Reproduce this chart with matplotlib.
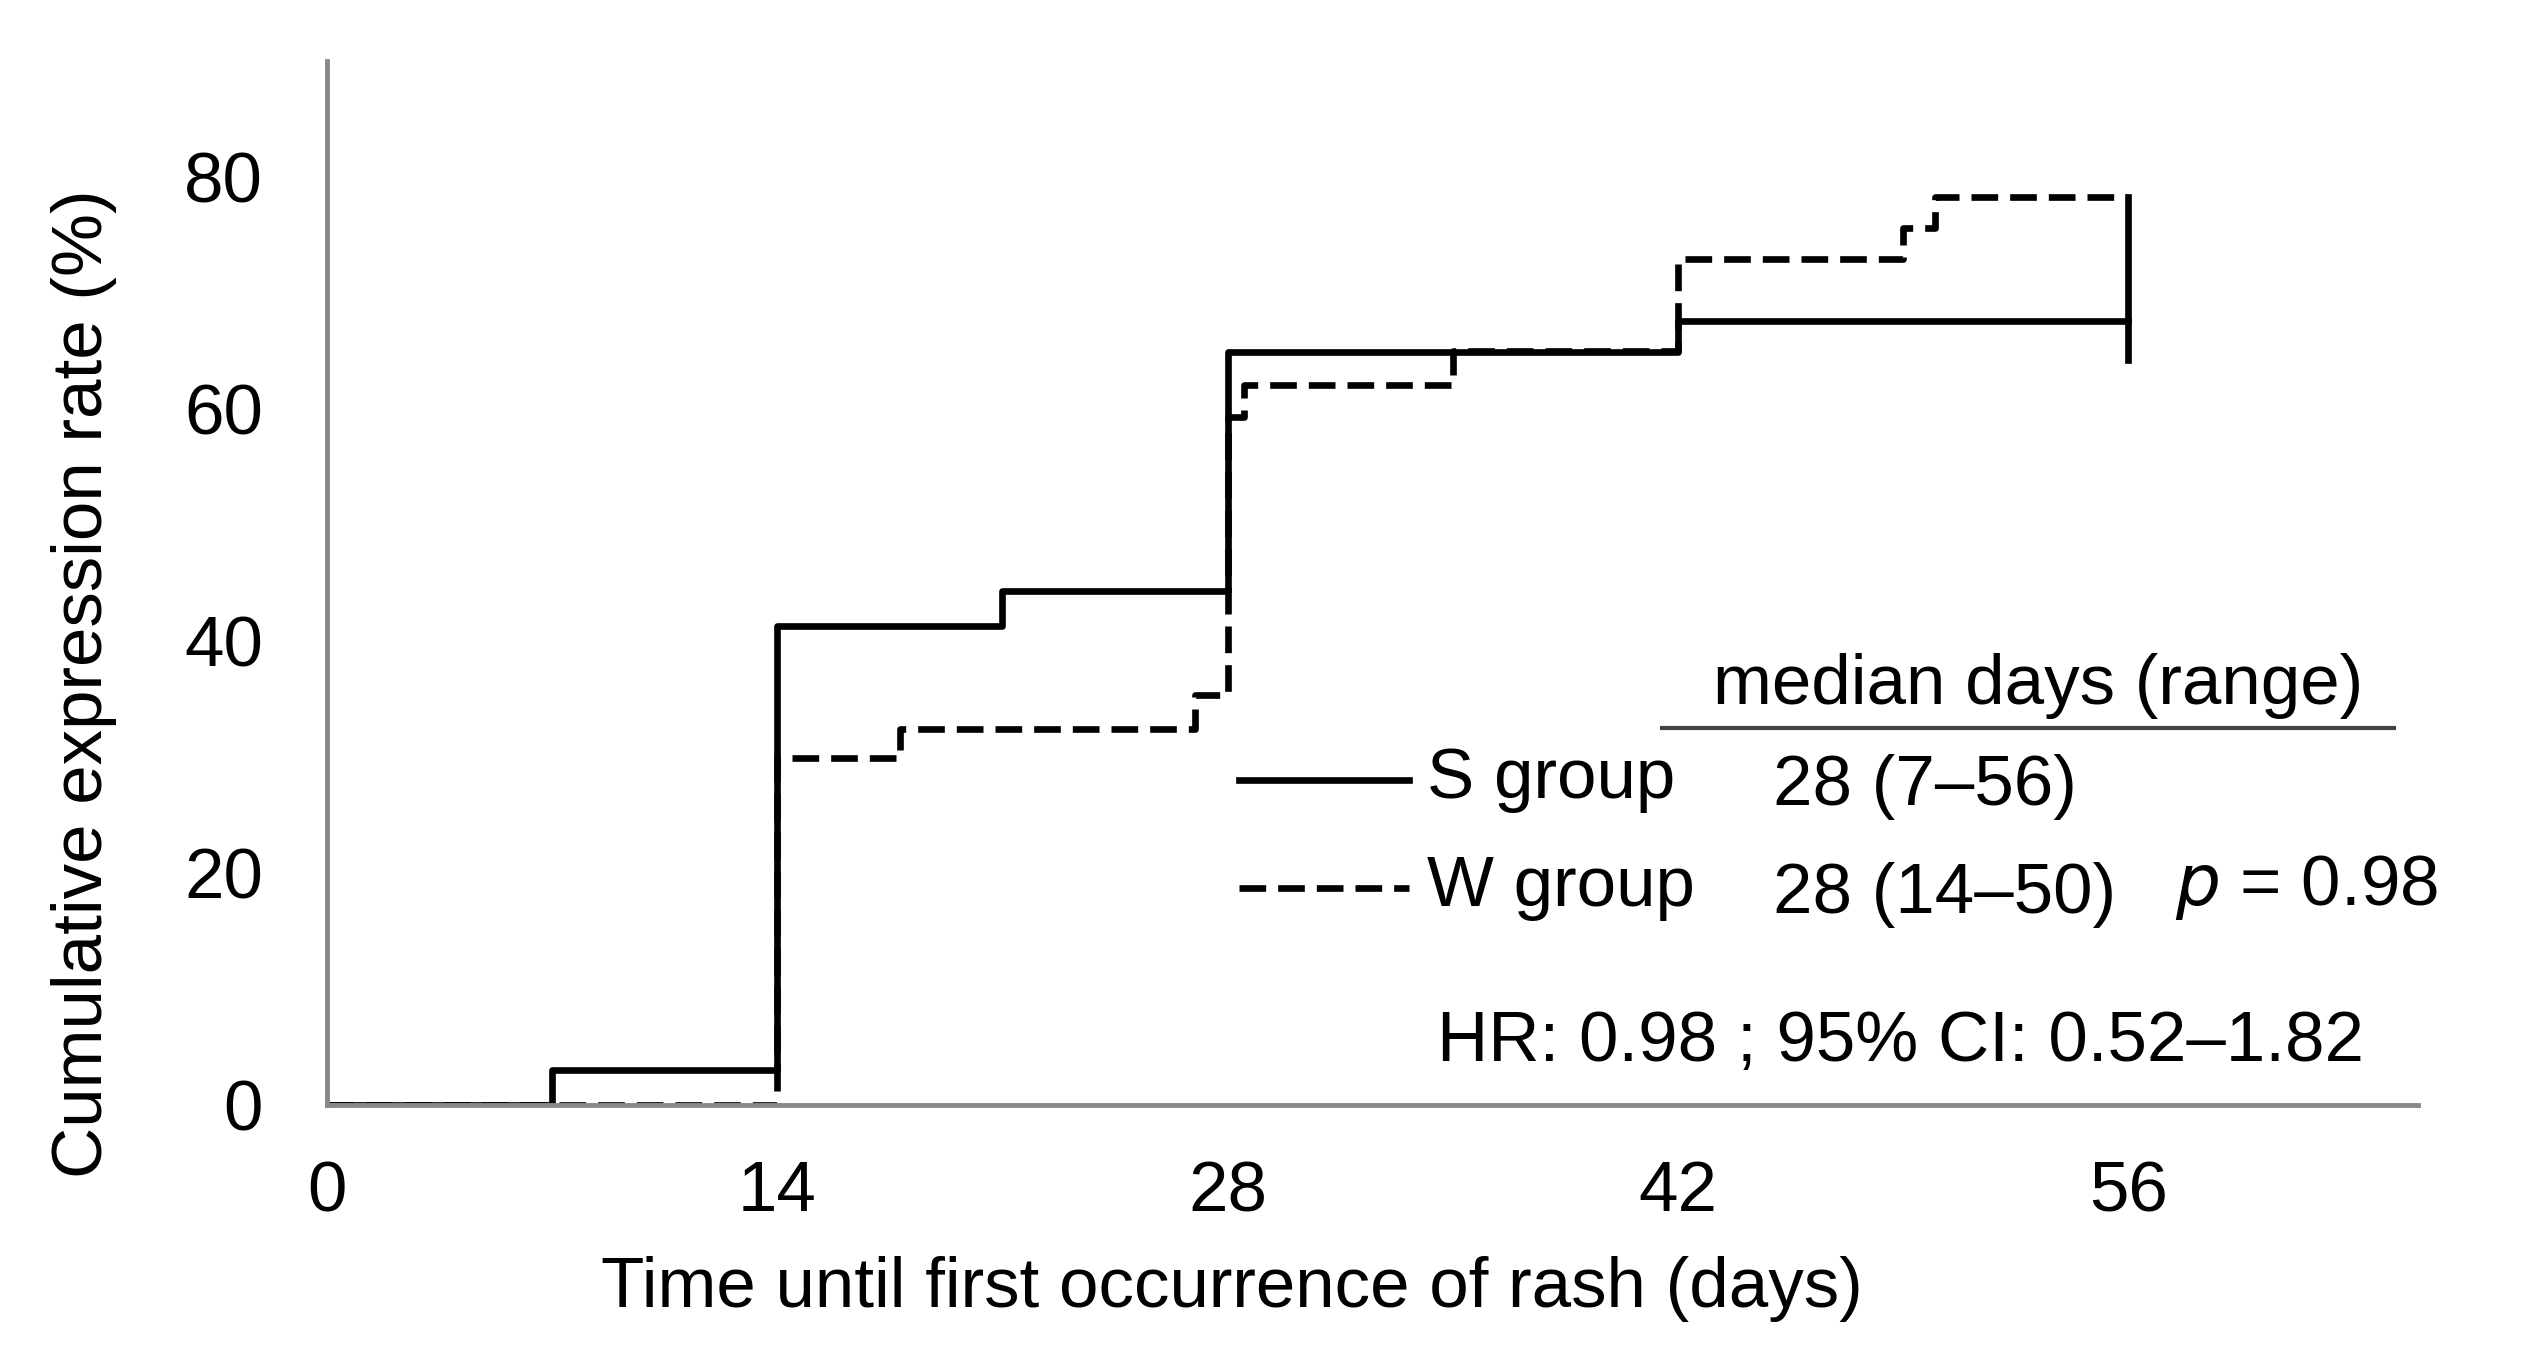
import numpy as np
import matplotlib.pyplot as plt

plt.rcParams['font.family'] = ['Liberation Sans', 'DejaVu Sans']

# cumulative expression rate (%) step data
s_days = [0, 7, 14, 21, 28, 42, 56]
s_rate = [0, 3.0, 41.3, 44.3, 64.9, 67.6, 67.6]
w_days = [0, 14, 17.8, 27, 28, 28.5, 35, 42, 49, 50, 56]
w_rate = [0, 29.9, 32.4, 35.3, 59.3, 62.1, 65.0, 72.9, 75.6, 78.3, 78.3]
censor_day = 56
censor_range = [64.2, 78.3]

x_ticks = [0, 14, 28, 42, 56]
y_ticks = [0, 20, 40, 60, 80]

groups = ['S group', 'W group']
medians = ['28 (7\u201356)', '28 (14\u201350)']

fig = plt.figure(figsize=(25.24, 13.57), dpi=100)
ax = fig.add_axes([0.1295, 0.186, 0.8285, 0.769])

lw = 4.8
dash = (0, (4, 1.8))
ax.step(s_days, s_rate, where='post', color='black', lw=lw)
ax.step(w_days, w_rate, where='post', color='black', lw=lw, linestyle=dash)
ax.plot([censor_day, censor_day], censor_range, color='black', lw=lw)

ax.set_xlim(0, 65)
ax.set_ylim(0, 90)
ax.set_xticks(x_ticks)
ax.set_yticks(y_ticks)
ax.tick_params(length=0, labelsize=51)
ax.tick_params(axis='y', pad=46)
ax.tick_params(axis='x', pad=40)
for side in ['top', 'right']:
    ax.spines[side].set_visible(False)
for side in ['left', 'bottom']:
    ax.spines[side].set_color('#888888')
    ax.spines[side].set_linewidth(3.5)

ax.text(0.433, -0.177, 'Time until first occurrence of rash (days)', transform=ax.transAxes,
        fontsize=51, ha='center', va='center')
ax.text(-0.116, 0.403, 'Cumulative expression rate (%)', transform=ax.transAxes,
        rotation=90, fontsize=51, ha='center', va='center')

# legend / annotations table
fs = 51
ax.text(43.1, 36.1, 'median days (range)', fontsize=fs, va='center', ha='left')
ax.plot([41.5, 64.25], [32.5, 32.5], color='#444444', lw=3, clip_on=False)
leg_y = [28.0, 18.7]
styles = ['-', dash]
for g, m, y, st in zip(groups, medians, leg_y, styles):
    ax.plot([28.35, 33.65], [y, y], color='black', lw=lw, linestyle=st)
    ax.text(34.2, y, g, fontsize=fs, va='center', ha='left')
    ax.text(44.95, y - 0.6, m, fontsize=fs, va='center', ha='left')
ax.text(57.45, leg_y[1], r'$p$ = 0.98', fontsize=fs, va='center', ha='left', clip_on=False)
ax.text(34.5, 5.3, 'HR: 0.98 ; 95% CI: 0.52\u20131.82', fontsize=fs, va='center', ha='left')

fig.savefig('out.png', dpi=100)
